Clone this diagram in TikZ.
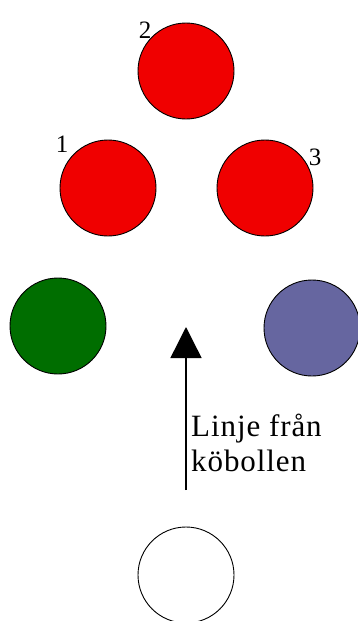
\documentclass[tikz,border=0pt]{standalone}
\usepackage{fontspec}
\setmainfont{Liberation Serif}
\usetikzlibrary{arrows.meta, positioning}
\definecolor{ballred}{RGB}{240,0,0}
\definecolor{ballgreen}{RGB}{0,110,0}
\definecolor{ballblue}{RGB}{102,102,160}

\begin{document}
\begin{tikzpicture}[x=1pt,y=-1pt,
  ball/.style={draw,circle,inner sep=0pt,minimum size=96pt,line width=0.9pt},
  num/.style={font=\fontsize{25}{25}\selectfont,inner sep=0pt},
  arr/.style={-{Triangle[width=31pt,length=31pt]},line width=1.4pt}
]
\useasboundingbox (0,0) rectangle (358,621);
\node[ball,fill=ballred] (b2) at (186,71)  {};
\node[ball,fill=ballred] (b1) at (108,188) {};
\node[ball,fill=ballred] (b3) at (265,188) {};
\node[ball,fill=ballgreen] (green) at (58,326) {};
\node[ball,fill=ballblue]  (blue)  at (312,328) {};
\node[ball,fill=white]     (cue)   at (186,575) {};
\node[num] (n2) at (145,30)  {2};
\node[num] (n1) at (62,144)  {1};
\node[num] (n3) at (315,157) {3};
\coordinate (start) at (186,490);
\coordinate (tip)   at (186,327);
\draw[arr] (start)--(tip);
\node[anchor=north west,align=left,inner sep=0pt,
      font=\fontsize{31}{35}\selectfont\addfontfeatures{LetterSpace=3}] (txt) at (191,414)
  {Linje från\\köbollen};
\end{tikzpicture}
\end{document}
